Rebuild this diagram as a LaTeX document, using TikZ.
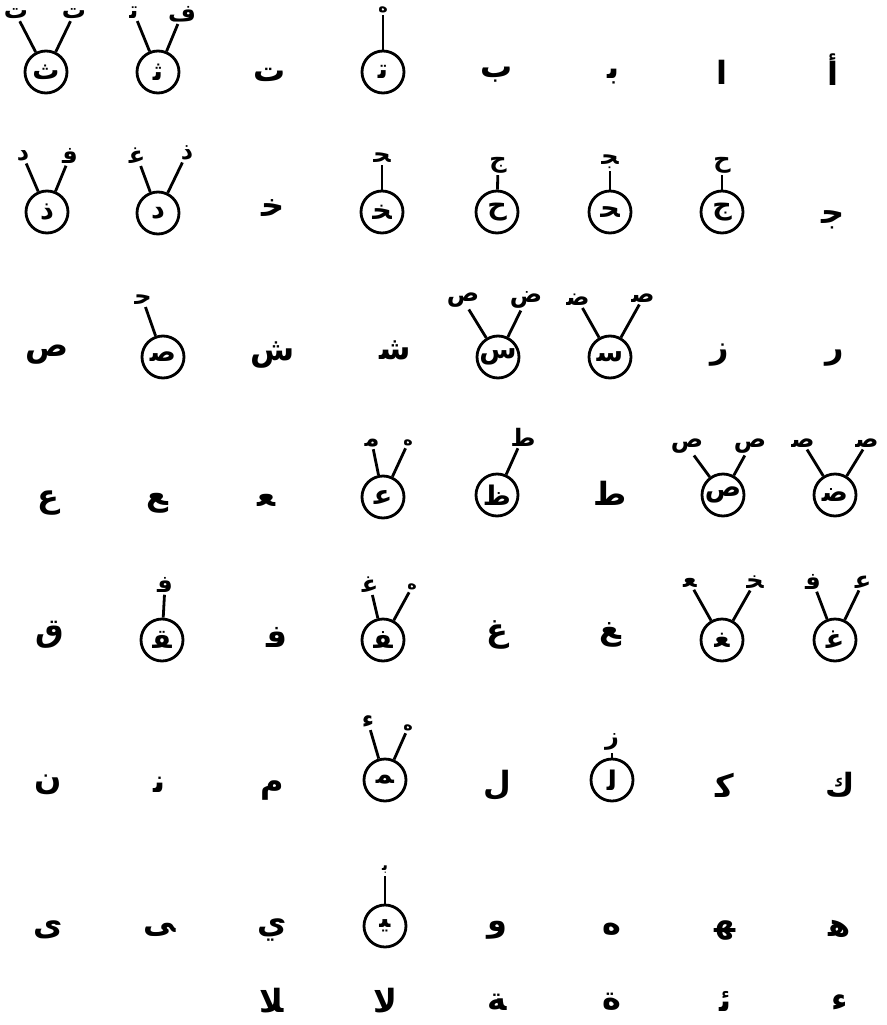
\documentclass[tikz,border=0pt]{standalone}
\usepackage{fontspec}
\newfontfamily\arabicfont[Script=Arabic]{DejaVu Sans}
\TeXXeTstate=1

\begin{document}
\begin{tikzpicture}[x=1pt,y=-1pt,
    glyph/.style={circle, draw, line width=2.8pt, minimum size=42pt, inner sep=0pt, font=\arabicfont\bfseries\fontsize{27}{29}\selectfont},
    letter/.style={inner sep=0pt, font=\arabicfont\bfseries\fontsize{32}{34}\selectfont},
    lab/.style={inner sep=2pt, font=\arabicfont\bfseries\fontsize{24}{26}\selectfont},
    ring/.style={inner sep=2pt, font=\arabicfont\bfseries\fontsize{16}{17}\selectfont},
    link/.style={line width=2.8pt}]
    \useasboundingbox (0,0) rectangle (886,1025);

    % Row 1
    \node[glyph] (r1c1) at (46,72) {ث};
    \node[lab] (r1c1l) at (16,14) {ت};
    \node[lab] (r1c1r) at (74,14) {ت};
    \node[glyph] (r1c2) at (158,72) {ﺛ};
    \node[lab] (r1c2l) at (134,13) {ﺗ};
    \node[lab] (r1c2r) at (182,14) {ف};
    \node[letter] (r1c3) at (270,75) {ت};
    \node[glyph] (r1c4) at (383,72) {ﺗ};
    \node[ring] (r1c4a) at (383,10) {ه};
    \node[letter] (r1c5) at (497,75) {ب};
    \node[letter] (r1c6) at (613,77) {ﺑ};
    \node[letter] (r1c7) at (722,72) {ا};
    \node[letter] (r1c8) at (833,70) {أ};
    \draw[link] (r1c1) -- (r1c1l);
    \draw[link] (r1c1) -- (r1c1r);
    \draw[link] (r1c2) -- (r1c2l);
    \draw[link] (r1c2) -- (r1c2r);
    \draw[link] (r1c4) -- (r1c4a);

    % Row 2
    \node[glyph] (r2c1) at (47,212) {ذ};
    \node[lab] (r2c1l) at (23,156) {د};
    \node[lab] (r2c1r) at (70,156) {ﻓ};
    \node[glyph] (r2c2) at (158,213) {د};
    \node[lab] (r2c2l) at (137,156) {ﻏ};
    \node[lab] (r2c2r) at (187,153) {ذ};
    \node[letter] (r2c3) at (273,208) {ﺧ};
    \node[glyph] (r2c4) at (382,212) {ﺨ};
    \node[lab] (r2c4a) at (382,158) {ﺤ};
    \node[glyph] (r2c5) at (497,212) {ح};
    \node[lab] (r2c5a) at (498,165) {ج};
    \node[glyph] (r2c6) at (610,212) {ﺤ};
    \node[lab] (r2c6a) at (610,162) {ﺠ};
    \node[glyph] (r2c7) at (722,212) {ج};
    \node[lab] (r2c7a) at (722,165) {ح};
    \node[letter] (r2c8) at (833,220) {ﺟ};
    \draw[link] (r2c1) -- (r2c1l);
    \draw[link] (r2c1) -- (r2c1r);
    \draw[link] (r2c2) -- (r2c2l);
    \draw[link] (r2c2) -- (r2c2r);
    \draw[link] (r2c4) -- (r2c4a);
    \draw[link] (r2c5) -- (r2c5a);
    \draw[link] (r2c6) -- (r2c6a);
    \draw[link] (r2c7) -- (r2c7a);

    % Row 3
    \node[letter] (r3c1) at (47,355) {ص};
    \node[glyph] (r3c2) at (163,357) {ﺻ};
    \node[lab] (r3c2a) at (143,300) {ﺣ};
    \node[letter] (r3c3) at (273,355) {ش};
    \node[letter] (r3c4) at (395,350) {ﺷ};
    \node[glyph] (r3c5) at (498,357) {س};
    \node[lab] (r3c5l) at (463,300) {ص};
    \node[lab] (r3c5r) at (526,300) {ض};
    \node[glyph] (r3c6) at (610,357) {ﺳ};
    \node[lab] (r3c6l) at (578,300) {ﺿ};
    \node[lab] (r3c6r) at (643,298) {ﺻ};
    \node[letter] (r3c7) at (720,355) {ز};
    \node[letter] (r3c8) at (835,358) {ر};
    \draw[link] (r3c2) -- (r3c2a);
    \draw[link] (r3c5) -- (r3c5l);
    \draw[link] (r3c5) -- (r3c5r);
    \draw[link] (r3c6) -- (r3c6l);
    \draw[link] (r3c6) -- (r3c6r);

    % Row 4
    \node[letter] (r4c1) at (48,503) {ع};
    \node[letter] (r4c2) at (157,503) {ﻊ};
    \node[letter] (r4c3) at (267,500) {ﻌ};
    \node[glyph] (r4c4) at (383,497) {ﻋ};
    \node[lab] (r4c4l) at (372,443) {ﻣ};
    \node[ring] (r4c4r) at (408,443) {ه};
    \node[glyph] (r4c5) at (497,495) {ظ};
    \node[lab] (r4c5a) at (523,437) {ط};
    \node[letter] (r4c6) at (610,493) {ط};
    \node[glyph] (r4c7) at (723,495) {ص};
    \node[lab] (r4c7l) at (687,446) {ص};
    \node[lab] (r4c7r) at (750,446) {ص};
    \node[glyph] (r4c8) at (835,495) {ﺿ};
    \node[lab] (r4c8l) at (803,443) {ﺻ};
    \node[lab] (r4c8r) at (867,443) {ﺻ};
    \draw[link] (r4c4) -- (r4c4l);
    \draw[link] (r4c4) -- (r4c4r);
    \draw[link] (r4c5) -- (r4c5a);
    \draw[link] (r4c7) -- (r4c7l);
    \draw[link] (r4c7) -- (r4c7r);
    \draw[link] (r4c8) -- (r4c8l);
    \draw[link] (r4c8) -- (r4c8r);

    % Row 5
    \node[letter] (r5c1) at (50,635) {ق};
    \node[glyph] (r5c2) at (162,640) {ﻘ};
    \node[lab] (r5c2a) at (165,585) {ﻓ};
    \node[letter] (r5c3) at (277,637) {ﻓ};
    \node[glyph] (r5c4) at (383,640) {ﻔ};
    \node[lab] (r5c4l) at (370,585) {ﻏ};
    \node[ring] (r5c4r) at (412,587) {ه};
    \node[letter] (r5c5) at (497,635) {غ};
    \node[letter] (r5c6) at (610,635) {ﻎ};
    \node[glyph] (r5c7) at (722,640) {ﻐ};
    \node[lab] (r5c7l) at (690,583) {ﻌ};
    \node[lab] (r5c7r) at (755,582) {ﺨ};
    \node[glyph] (r5c8) at (835,640) {ﻏ};
    \node[lab] (r5c8l) at (813,582) {ﻓ};
    \node[lab] (r5c8r) at (863,582) {ﻋ};
    \draw[link] (r5c2) -- (r5c2a);
    \draw[link] (r5c4) -- (r5c4l);
    \draw[link] (r5c4) -- (r5c4r);
    \draw[link] (r5c7) -- (r5c7l);
    \draw[link] (r5c7) -- (r5c7r);
    \draw[link] (r5c8) -- (r5c8l);
    \draw[link] (r5c8) -- (r5c8r);

    % Row 6
    \node[letter] (r6c1) at (48,785) {ن};
    \node[letter] (r6c2) at (160,785) {ﻧ};
    \node[letter] (r6c3) at (272,790) {م};
    \node[glyph] (r6c4) at (385,780) {ﻤ};
    \node[lab] (r6c4l) at (368,722) {ء};
    \node[ring] (r6c4r) at (408,728) {ه};
    \node[letter] (r6c5) at (497,785) {ل};
    \node[glyph] (r6c6) at (612,780) {ﻟ};
    \node[lab] (r6c6a) at (612,742) {ز};
    \node[letter] (r6c7) at (725,785) {ﻛ};
    \node[letter] (r6c8) at (840,785) {ك};
    \draw[link] (r6c4) -- (r6c4l);
    \draw[link] (r6c4) -- (r6c4r);
    \draw[link] (r6c6) -- (r6c6a);

    % Row 7
    \node[letter] (r7c1) at (48,930) {ى};
    \node[letter] (r7c2) at (160,930) {ﻰ};
    \node[letter] (r7c3) at (272,930) {ي};
    \node[glyph] (r7c4) at (385,926) {ﻴ};
    \node[ring] (r7c4a) at (385,870) {ﺑ};
    \node[letter] (r7c5) at (497,930) {و};
    \node[letter] (r7c6) at (612,929) {ه};
    \node[letter] (r7c7) at (725,930) {ﻬ};
    \node[letter] (r7c8) at (840,929) {ﻫ};
    \draw[link] (r7c4) -- (r7c4a);

    % Row 8
    \node[letter] (r8c3) at (272,1001) {ﻼ};
    \node[letter] (r8c4) at (385,1001) {ﻻ};
    \node[letter] (r8c5) at (497,1002) {ﺔ};
    \node[letter] (r8c6) at (612,1002) {ة};
    \node[letter] (r8c7) at (725,1001) {ﺋ};
    \node[letter] (r8c8) at (840,1003) {ء};
\end{tikzpicture}
\end{document}
